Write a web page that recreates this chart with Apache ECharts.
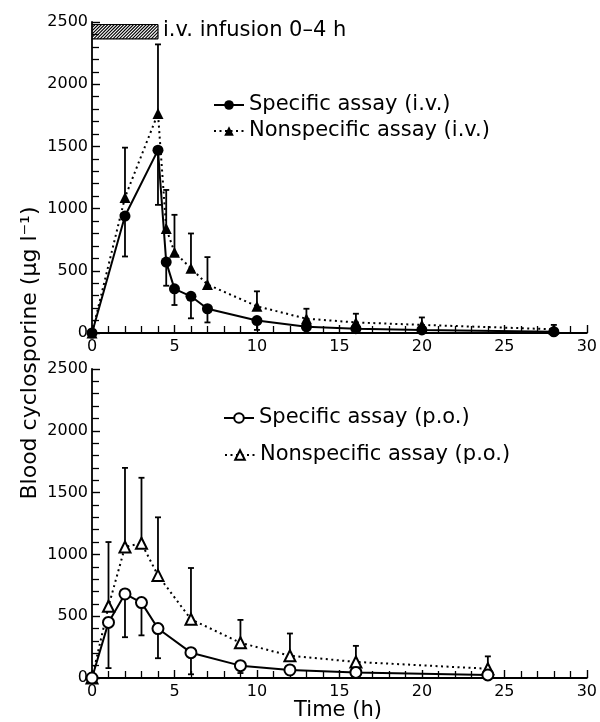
<!DOCTYPE html>
<html>
<head>
<meta charset="utf-8">
<script src="https://cdn.jsdelivr.net/npm/echarts@6/dist/echarts.min.js"></script>
<style>html,body{margin:0;padding:0;background:#fff}#c{width:600px;height:722px}</style>
</head>
<body>
<div id="c"></div>
<script>
// ---- data ----
const xTicks = [0, 5, 10, 15, 20, 25, 30];
const yTicks = [0, 500, 1000, 1500, 2000, 2500];
const infusionPeriod = [0, 4];

const ivTime = [0, 2, 4, 4.5, 5, 6, 7, 10, 13, 16, 20, 28];
const ivSpecific = [0, 940, 1470, 570, 355, 295, 195, 100, 50, 35, 25, 10];
const ivSpecificLow = [null, 615, 1030, 380, 225, 118, 85, 25, 30, 20, 15, 5];
const ivNonspecific = [0, 1090, 1765, 840, 650, 520, 390, 215, 115, 85, 65, 30];
const ivNonspecificHigh = [null, 1490, 2320, 1150, 950, 800, 610, 335, 195, 155, 125, 65];

const poTime = [0, 1, 2, 3, 4, 6, 9, 12, 16, 24];
const poSpecific = [0, 450, 680, 610, 400, 205, 100, 65, 45, 25];
const poSpecificLow = [null, 80, 330, 345, 160, 30, 40, 45, 30, 10];
const poNonspecific = [0, 580, 1060, 1090, 830, 475, 285, 180, 130, 75];
const poNonspecificHigh = [null, 1100, 1700, 1620, 1300, 890, 470, 360, 260, 175];

// ---- helpers ----
const FONT = '"DejaVu Sans", Verdana, sans-serif';
const pts = (t, v) => t.map((x, i) => [x, v[i]]);
const errs = (t, v, e) => t.map((x, i) => e[i] == null ? null : [x, v[i], e[i]]).filter(Boolean);

function errRender(params, api) {
  const x = api.value(0), y = api.value(1), e = api.value(2);
  const p1 = api.coord([x, y]);
  const p2 = api.coord([x, e]);
  const cap = 3;
  return {
    type: 'group',
    children: [
      {type: 'line', shape: {x1: p1[0], y1: p1[1], x2: p2[0], y2: p2[1]}, style: {stroke: '#000', lineWidth: 1.8}},
      {type: 'line', shape: {x1: p2[0] - cap, y1: p2[1], x2: p2[0] + cap, y2: p2[1]}, style: {stroke: '#000', lineWidth: 1.8}}
    ]
  };
}

function hatchRender(params, api) {
  const a = api.coord([api.value(0), 2480]);
  const b = api.coord([api.value(1), 2365]);
  const x0 = a[0], yt = a[1], x1 = b[0], yb = b[1];
  const w = x1 - x0, h = yb - yt;
  const children = [
    {type: 'line', shape: {x1: x0, y1: yt, x2: x1, y2: yt}, style: {stroke: '#000', lineWidth: 1.2}},
    {type: 'line', shape: {x1: x0, y1: yb, x2: x1, y2: yb}, style: {stroke: '#000', lineWidth: 1.2}},
    {type: 'line', shape: {x1: x1, y1: yt, x2: x1, y2: yb}, style: {stroke: '#000', lineWidth: 1.2}}
  ];
  for (let s = -h; s < w; s += 3.2) {
    let sx = x0 + s, sy = yb, ex = x0 + s + h, ey = yt;
    if (sx < x0) { sy = yb - (x0 - sx); sx = x0; }
    if (ex > x1) { ey = yt + (ex - x1); ex = x1; }
    children.push({type: 'line', shape: {x1: sx, y1: sy, x2: ex, y2: ey}, style: {stroke: '#000', lineWidth: 1.1}});
  }
  return {type: 'group', children};
}

function xAxisDef(gi) {
  return {
    gridIndex: gi, type: 'value', min: xTicks[0], max: xTicks[xTicks.length - 1], interval: xTicks[1] - xTicks[0],
    axisLine: {show: true, onZero: false, lineStyle: {color: '#000', width: 1.8}},
    axisTick: {show: true, inside: true, length: 8, lineStyle: {color: '#000', width: 1.4}},
    minorTick: {show: true, splitNumber: 5, length: 7, lineStyle: {color: '#000', width: 1.3}},
    axisLabel: {color: '#000', fontSize: 16, fontFamily: FONT, margin: 6, formatter: v => String(v)},
    splitLine: {show: false}
  };
}
function yAxisDef(gi) {
  return {
    gridIndex: gi, type: 'value', min: yTicks[0], max: yTicks[yTicks.length - 1], interval: yTicks[1] - yTicks[0],
    axisLine: {show: true, onZero: false, lineStyle: {color: '#000', width: 1.8}},
    axisTick: {show: true, inside: true, length: 8, lineStyle: {color: '#000', width: 1.4}},
    minorTick: {show: true, splitNumber: 5, length: 7, lineStyle: {color: '#000', width: 1.3}},
    axisLabel: {color: '#000', fontSize: 16, fontFamily: FONT, margin: 4, formatter: v => String(v)},
    splitLine: {show: false}
  };
}

function legendDef(name, left, top) {
  return {
    data: [name], left, top, padding: 0, itemWidth: 30, itemHeight: 12, itemGap: 0,
    selectedMode: false,
    textStyle: {color: '#000', fontSize: 21, fontFamily: FONT, lineHeight: 22}
  };
}

const chart = echarts.init(document.getElementById('c'), null, {renderer: 'canvas'});
chart.setOption({
  animation: false,
  backgroundColor: '#fff',
  grid: [
    {left: 92, right: 13, top: 22, height: 311},
    {left: 92, right: 13, top: 369, height: 309}
  ],
  xAxis: [xAxisDef(0), xAxisDef(1)],
  yAxis: [yAxisDef(0), yAxisDef(1)],
  legend: [
    legendDef('Specific assay (i.v.)', 213, 94),
    legendDef('Nonspecific assay (i.v.)', 213, 120),
    legendDef('Specific assay (p.o.)', 223, 407),
    legendDef('Nonspecific assay (p.o.)', 224, 444)
  ],
  graphic: [
    {type: 'text', style: {text: 'i.v. infusion 0–4 h', x: 163, y: 31, fill: '#000', font: '21px ' + FONT, verticalAlign: 'middle', textVerticalAlign: 'middle'}},
    {type: 'text', rotation: Math.PI / 2, x: 30, y: 353, style: {text: 'Blood cyclosporine (μg l⁻¹)', x: 0, y: 0, fill: '#000', font: '22px ' + FONT, align: 'center', textAlign: 'center', verticalAlign: 'middle', textVerticalAlign: 'middle'}},
    {type: 'text', style: {text: 'Time (h)', x: 338, y: 711, fill: '#000', font: '21px ' + FONT, align: 'center', textAlign: 'center', verticalAlign: 'middle', textVerticalAlign: 'middle'}}
  ],
  series: [
    {type: 'custom', name: 'infusion', xAxisIndex: 0, yAxisIndex: 0, renderItem: hatchRender, data: [infusionPeriod], z: 1, silent: true},
    {type: 'custom', name: 'errNonIV', xAxisIndex: 0, yAxisIndex: 0, renderItem: errRender, data: errs(ivTime, ivNonspecific, ivNonspecificHigh), z: 1},
    {type: 'custom', name: 'errSpecIV', xAxisIndex: 0, yAxisIndex: 0, renderItem: errRender, data: errs(ivTime, ivSpecific, ivSpecificLow), z: 1},
    {type: 'line', name: 'Nonspecific assay (i.v.)', xAxisIndex: 0, yAxisIndex: 0, data: pts(ivTime, ivNonspecific),
      symbol: 'triangle', symbolSize: 11, itemStyle: {color: '#000'},
      lineStyle: {color: '#000', width: 2, type: [2, 3.5]}, z: 3},
    {type: 'line', name: 'Specific assay (i.v.)', xAxisIndex: 0, yAxisIndex: 0, data: pts(ivTime, ivSpecific),
      symbol: 'circle', symbolSize: 11, itemStyle: {color: '#000'},
      lineStyle: {color: '#000', width: 2}, z: 4},
    {type: 'custom', name: 'errNonPO', xAxisIndex: 1, yAxisIndex: 1, renderItem: errRender, data: errs(poTime, poNonspecific, poNonspecificHigh), z: 1},
    {type: 'custom', name: 'errSpecPO', xAxisIndex: 1, yAxisIndex: 1, renderItem: errRender, data: errs(poTime, poSpecific, poSpecificLow), z: 1},
    {type: 'line', name: 'Nonspecific assay (p.o.)', xAxisIndex: 1, yAxisIndex: 1, data: pts(poTime, poNonspecific),
      symbol: 'emptyTriangle', symbolSize: 11, itemStyle: {color: '#000', borderColor: '#000', borderWidth: 1.8},
      lineStyle: {color: '#000', width: 2, type: [2, 3.5]}, z: 3},
    {type: 'line', name: 'Specific assay (p.o.)', xAxisIndex: 1, yAxisIndex: 1, data: pts(poTime, poSpecific),
      symbol: 'emptyCircle', symbolSize: 11, itemStyle: {color: '#000', borderColor: '#000', borderWidth: 1.8},
      lineStyle: {color: '#000', width: 2}, z: 4}
  ]
});
</script>
</body>
</html>
